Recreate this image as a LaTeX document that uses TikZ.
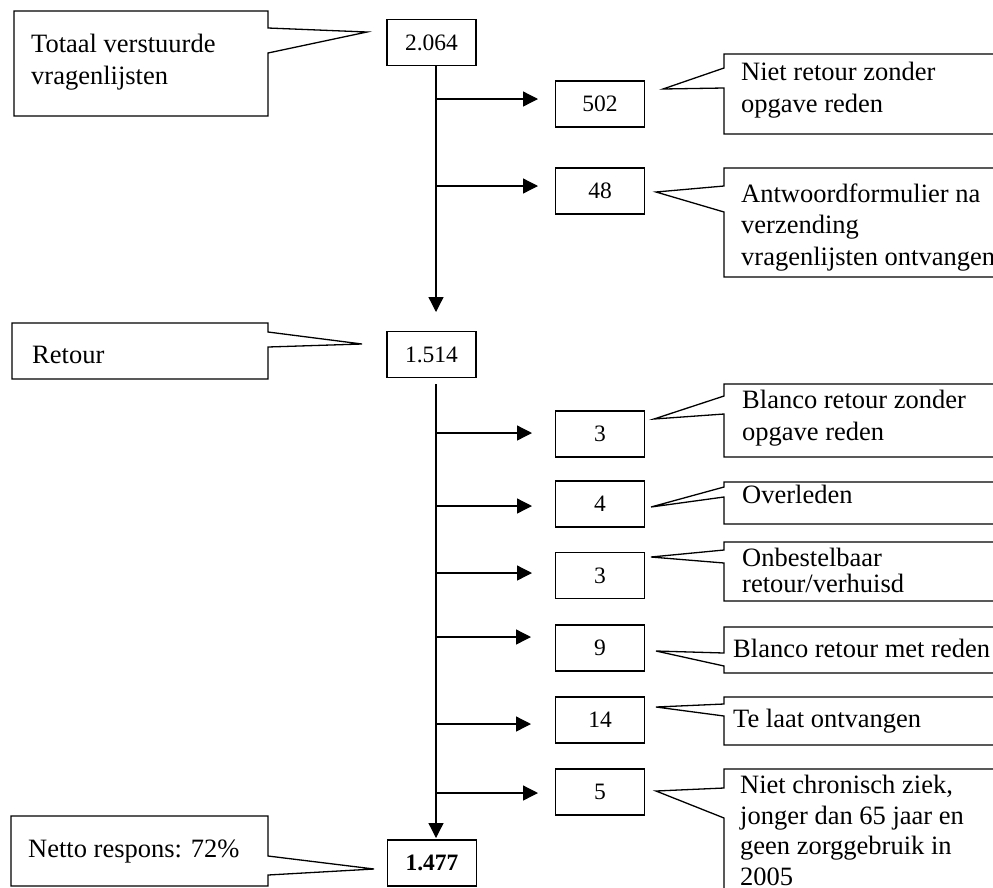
\documentclass[tikz,border=0pt]{standalone}
\usepackage{fontspec}
\setmainfont{Liberation Serif}
\usetikzlibrary{arrows.meta}
\newcommand\rcall[6]{\draw[outline] (1010,#1) -- (724,#1) -- (724,#3) -- (#4,#5) -- (724,#6) -- (724,#2) -- (1010,#2);}
\newcommand\lcall[7]{\draw[outline] (#1,#2) -- (268,#2) -- (268,#4) -- (#5,#6) -- (268,#7) -- (268,#3) -- (#1,#3) -- cycle;}
\begin{document}
\begin{tikzpicture}[x=1pt,y=-1pt,
  outline/.style={line width=1.3pt, line join=miter},
  numbox/.style={draw, line width=1.3pt, minimum width=89pt, minimum height=46pt, inner sep=0pt, font=\fontsize{23.5}{28}\selectfont},
  ctext/.style={anchor=base west, inner sep=0pt, align=left, font=\fontsize{26.5}{31.5}\selectfont},
  arr/.style={-{Triangle[length=15pt,width=15pt]}, line width=1.3pt}]
\useasboundingbox (0,0) rectangle (993,887);
\clip (0,0) rectangle (993,887);
\fill[white] (0,0) rectangle (993,887);

% number boxes
\node[numbox] (b2064) at (431.5,42.5) {2.064};
\node[numbox] (b502) at (600,104) {502};
\node[numbox] (b48) at (600,191) {48};
\node[numbox] (b1514) at (431.5,354.5) {1.514};
\node[numbox] (b3a) at (600,434) {3};
\node[numbox] (b4) at (600,504) {4};
\node[numbox] (b3b) at (600,575.5) {3};
\node[numbox] (b9) at (600,648) {9};
\node[numbox] (b14) at (600,720) {14};
\node[numbox] (b5) at (600,792) {5};
\node[numbox, font=\fontsize{23.5}{28}\selectfont\bfseries] (b1477) at (432,863) {1.477};

% trunk
\coordinate (a1) at (436,312);
\coordinate (a2) at (436,838);
\draw[arr] (b2064.south -| a1) -- (a1);
\draw[arr] ([yshift=-6pt]b1514.south -| a2) -- (a2);

% branches
\draw[arr] (436,99) -- (538,99);
\draw[arr] (436,186) -- (538,186);
\draw[arr] (436,433) -- (532,433);
\draw[arr] (436,506) -- (532,506);
\draw[arr] (436,573) -- (532,573);
\draw[arr] (436,637) -- (531,637);
\draw[arr] (436,724) -- (531,724);
\draw[arr] (436,793) -- (538,793);

% left callouts
\lcall{14}{11}{116}{28}{367}{32}{53}
\lcall{12}{323}{379}{332}{362}{344}{347}
\lcall{11}{816}{886}{856}{374}{869}{875}

% right callouts
\rcall{54}{134}{68}{663}{89}{88}
\rcall{168}{277}{186}{656}{192}{212}
\rcall{384}{457}{396}{654}{419}{414}
\rcall{482}{524}{487}{651}{507}{497}
\rcall{542}{601}{550}{651}{557}{563}
\rcall{627}{673}{653}{656}{651}{666}
\rcall{697}{745}{704}{656}{707}{716}
\rcall{769}{900}{788}{656}{791}{818}

% texts (base = baseline of last line)
\node[ctext] (tTotaal) at (31,84) {Totaal verstuurde\\vragenlijsten};
\node[ctext] (tRetour) at (32,363) {Retour};
\node[ctext] (tNetto) at (28,857) {Netto respons: 72\%};
\node[ctext] (tNiet) at (741,112) {Niet retour zonder\\opgave reden};
\node[ctext] (tAntw) at (741,265) {Antwoordformulier na\\verzending\\vragenlijsten ontvangen};
\node[ctext] (tBl1) at (742,440) {Blanco retour zonder\\opgave reden};
\node[ctext] (tOv) at (742,503) {Overleden};
\node[ctext] (tOn) at (742,592) {Onbestelbaar\\[-5.5pt]retour/verhuisd};
\node[ctext] (tBl2) at (733,657) {Blanco retour met reden};
\node[ctext] (tTe) at (733,727) {Te laat ontvangen};
\node[ctext] (tNc) at (740,885) {Niet chronisch ziek,\\[-1pt]jonger dan 65 jaar en\\[-1pt]geen zorggebruik in\\[-1pt]2005};
\end{tikzpicture}
\end{document}
